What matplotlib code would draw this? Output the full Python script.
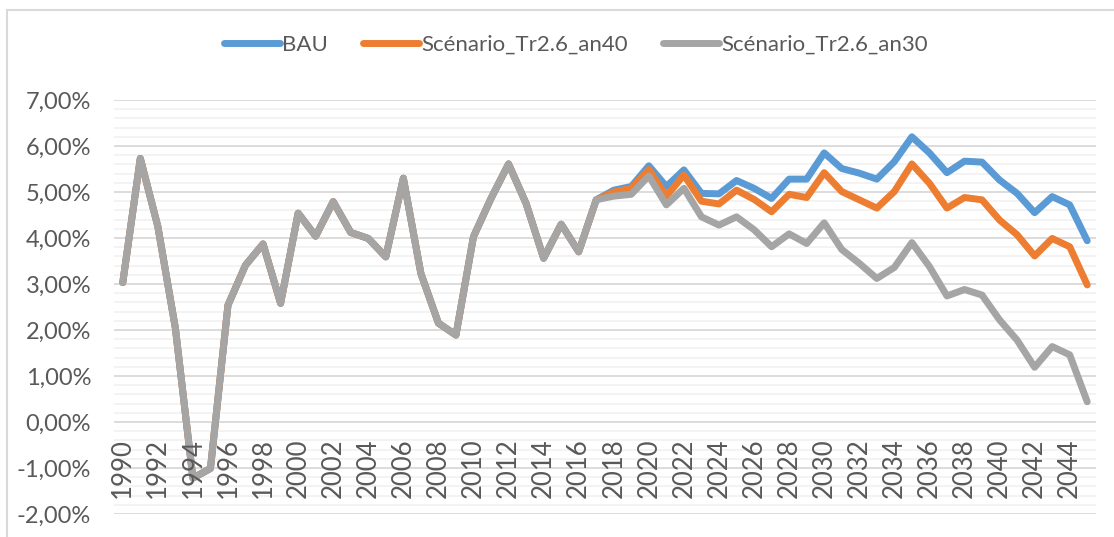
"""Croissance annuelle : BAU et scénarios de transition."""

import matplotlib.pyplot as plt
from matplotlib.patches import Rectangle
from matplotlib.ticker import MultipleLocator

years = list(range(1990, 2046))

# Historique commun 1990-2017 (%)
history = [3.03, 5.73, 4.25, 2.04, -1.22, -1.01, 2.54, 3.41, 3.87, 2.58,
           4.54, 4.04, 4.79, 4.12, 3.99, 3.59, 5.30, 3.23, 2.15, 1.89,
           4.03, 4.86, 5.61, 4.75, 3.56, 4.30, 3.70, 4.83]

# Projections 2018-2045 (%)
bau_proj = [5.04, 5.12, 5.57, 5.12, 5.48, 4.97, 4.96, 5.25, 5.08, 4.86,
            5.28, 5.28, 5.85, 5.51, 5.41, 5.28, 5.66, 6.20, 5.85, 5.42,
            5.67, 5.65, 5.26, 4.97, 4.55, 4.90, 4.72, 3.94]
an40_proj = [5.00, 5.08, 5.49, 4.91, 5.37, 4.80, 4.74, 5.04, 4.84, 4.57,
             4.95, 4.88, 5.42, 5.01, 4.83, 4.65, 5.01, 5.61, 5.19, 4.65,
             4.88, 4.83, 4.39, 4.07, 3.61, 3.99, 3.81, 2.98]
an30_proj = [4.91, 4.95, 5.35, 4.72, 5.08, 4.46, 4.28, 4.46, 4.18, 3.81,
             4.09, 3.88, 4.33, 3.75, 3.45, 3.12, 3.36, 3.90, 3.38, 2.74,
             2.88, 2.76, 2.22, 1.78, 1.19, 1.64, 1.46, 0.44]

series_names = ["BAU", "Scénario_Tr2.6_an40", "Scénario_Tr2.6_an30"]
series_values = [history + bau_proj, history + an40_proj, history + an30_proj]
colors = ["#5B9BD5", "#ED7D31", "#A5A5A5"]

TEXT = "#595959"
plt.rcParams["font.family"] = ["Lato", "DejaVu Sans"]

W, H = 1114, 537
fig = plt.figure(figsize=(W / 100, H / 100), dpi=100)
ax = fig.add_axes([114 / W, 1 - 514 / H, (1096 - 114) / W, (514 - 100) / H])

# chart-area border (Excel style)
fig.patches.append(Rectangle((7 / W, -0.1), 1.2, 1 - 10 / H + 0.1,
                             transform=fig.transFigure, fill=False,
                             edgecolor="#D9D9D9", linewidth=1.5))

for name, vals, col in zip(series_names, series_values, colors):
    ax.plot(years, vals, color=col, linewidth=5, label=name,
            solid_joinstyle="round", solid_capstyle="round")

ax.set_xlim(1989.5, 2045.5)
ax.set_ylim(-2, 7)
ax.yaxis.set_minor_locator(MultipleLocator(0.2))
ax.set_yticks(range(-2, 8))
ax.set_yticklabels([f"{v:.2f}%".replace(".", ",") for v in range(-2, 8)],
                   fontsize=17, color=TEXT)
ax.tick_params(axis="y", which="both", length=0, pad=16.5)
ax.grid(axis="y", which="major", color="#D9D9D9", linewidth=1.3, zorder=0)
ax.grid(axis="y", which="minor", color="#F2F2F2", linewidth=1.3, zorder=0)
ax.set_xticks([])
for s in ax.spines.values():
    s.set_visible(False)
ax.set_axisbelow(True)

# category labels sit under the 0 % axis
for yr in years[::2]:
    ax.text(yr, -0.35, str(yr), rotation=90, ha="center", va="top",
            fontsize=18.5, color=TEXT)

fig.legend(loc="center", bbox_to_anchor=(576 / W, 1 - 45 / H), ncol=3,
           frameon=False, fontsize=16, labelcolor=TEXT,
           handlelength=2.5, handletextpad=0.1, columnspacing=1.6)

fig.savefig("out.png", dpi=100, facecolor="white")
